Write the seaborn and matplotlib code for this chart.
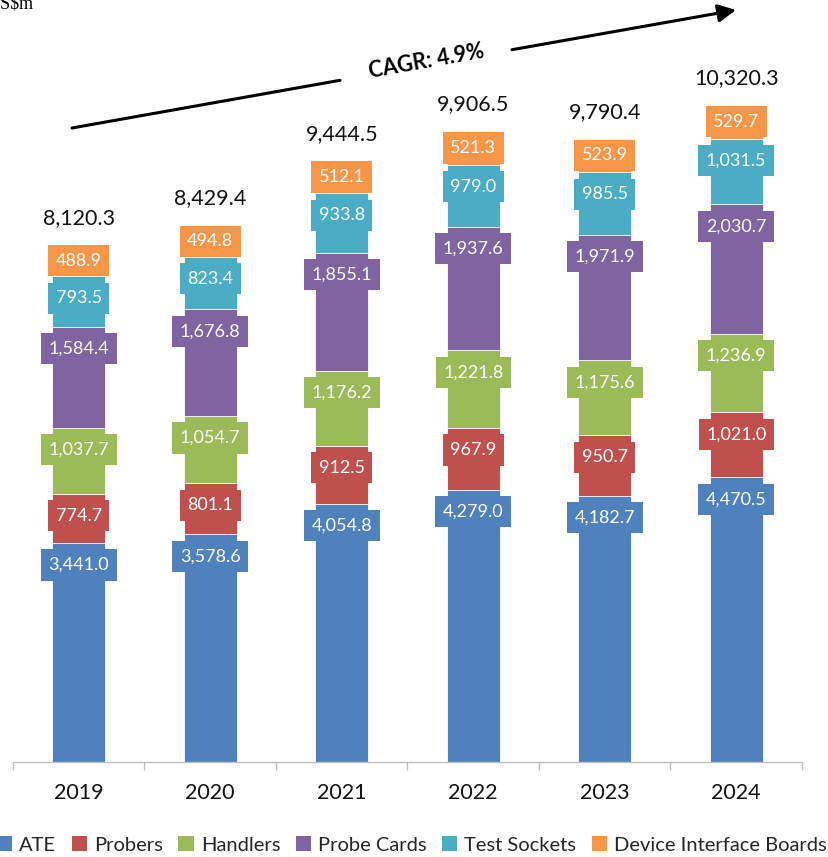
import matplotlib
matplotlib.use("Agg")
import matplotlib.pyplot as plt
import seaborn as sns
import numpy as np
from matplotlib.patches import Patch

# Market size by segment, US$m
years = ["2019", "2020", "2021", "2022", "2023", "2024"]
ate = [3441.0, 3578.6, 4054.8, 4279.0, 4182.7, 4470.5]
probers = [774.7, 801.1, 912.5, 967.9, 950.7, 1021.0]
handlers = [1037.7, 1054.7, 1176.2, 1221.8, 1175.6, 1236.9]
probe_cards = [1584.4, 1676.8, 1855.1, 1937.6, 1971.9, 2030.7]
test_sockets = [793.5, 823.4, 933.8, 979.0, 985.5, 1031.5]
interface_boards = [488.9, 494.8, 512.1, 521.3, 523.9, 529.7]
totals = [8120.3, 8429.4, 9444.5, 9906.5, 9790.4, 10320.3]
segment_names = ["ATE", "Probers", "Handlers", "Probe Cards", "Test Sockets",
                 "Device Interface Boards"]
cagr_text = "CAGR: 4.9%"
unit_text = "US$m"

colors = ["#4F81BD", "#C0504D", "#9BBB59", "#8064A2", "#4BACC6", "#F79646"]

sns.set_theme(style="white")
plt.rcParams["font.family"] = ["Lato", "DejaVu Sans"]

W, H = 829, 857
fig = plt.figure(figsize=(W / 100, H / 100), dpi=100)
ax = fig.add_axes([13 / W, 95 / H, 789 / W, 762 / H])

layers = [ate, probers, handlers, probe_cards, test_sockets, interface_boards]
cum = np.cumsum(np.array(layers), axis=0)

# Stacked bars: draw cumulative heights from the top layer down
for i in reversed(range(len(layers))):
    sns.barplot(x=years, y=cum[i], color=colors[i], saturation=1, width=0.4,
                edgecolor="white", linewidth=0.6, ax=ax, zorder=2)

ymax = 11970
ax.set_ylim(0, ymax)
ax.set_xlim(-0.5, len(years) - 0.5)

# Segment value labels in coloured boxes, near the top of each segment
px = ymax / 762.0
inset = 22 * px
for i, vals in enumerate(layers):
    for j, v in enumerate(vals):
        top = cum[i][j]
        y = top - min(inset, v / 2)
        ax.text(j, y, f"{v:,.1f}", ha="center", va="center", color="white",
                fontsize=13, zorder=4,
                bbox=dict(boxstyle="square,pad=0.42", fc=colors[i], ec="none"))

# Totals above bars
for j, t in enumerate(totals):
    ax.text(j, t + 27 * px, f"{t:,.1f}", ha="center", va="center",
            fontsize=15.5, color="#111111")

# Axes styling
for s in ["top", "right", "left"]:
    ax.spines[s].set_visible(False)
ax.spines["bottom"].set_color("#BFBFBF")
ax.spines["bottom"].set_linewidth(1)
ax.set_yticks([])
ax.set_ylabel("")
ax.set_xlabel("")
ax.set_xticks(range(len(years)))
ax.set_xticklabels(years, fontsize=15.5, color="#111111")
ax.set_xticks(np.arange(-0.5, len(years), 1), minor=True)
ax.tick_params(axis="x", which="major", length=0, pad=15)
ax.tick_params(axis="x", which="minor", length=6, color="#BFBFBF", width=1,
               direction="out", bottom=True)

# Legend
handles = [Patch(facecolor=c, edgecolor="none") for c in colors]
fig.legend(handles, segment_names, loc="center", ncol=6, frameon=False,
           bbox_to_anchor=(412 / W, (H - 845) / H), fontsize=14.5,
           handlelength=0.75, handleheight=0.75, handletextpad=0.35,
           columnspacing=0.78, borderaxespad=0, borderpad=0)

# Growth arrow with CAGR label
def fpt(x, y):
    return (x / W, (H - y) / H)

ax.annotate("", xy=fpt(340, 80.3), xytext=fpt(72, 128),
            xycoords="figure fraction", textcoords="figure fraction",
            arrowprops=dict(arrowstyle="-", lw=2.2, color="black",
                            shrinkA=0, shrinkB=0))
ax.annotate("", xy=fpt(736, 10), xytext=fpt(512, 49.7),
            xycoords="figure fraction", textcoords="figure fraction",
            arrowprops=dict(arrowstyle="-|>,head_length=0.9,head_width=0.45",
                            lw=2.2, color="black", shrinkA=0, shrinkB=0))
fig.text(*fpt(426, 61), cagr_text, rotation=10.1, rotation_mode="anchor",
         ha="center", va="center", fontsize=15.5, fontweight="bold",
         color="black")

fig.text(*fpt(34, 8), unit_text, ha="right", va="baseline", fontsize=13,
         family=["Liberation Serif", "DejaVu Serif"], color="black")

fig.savefig("out.png", dpi=100)
